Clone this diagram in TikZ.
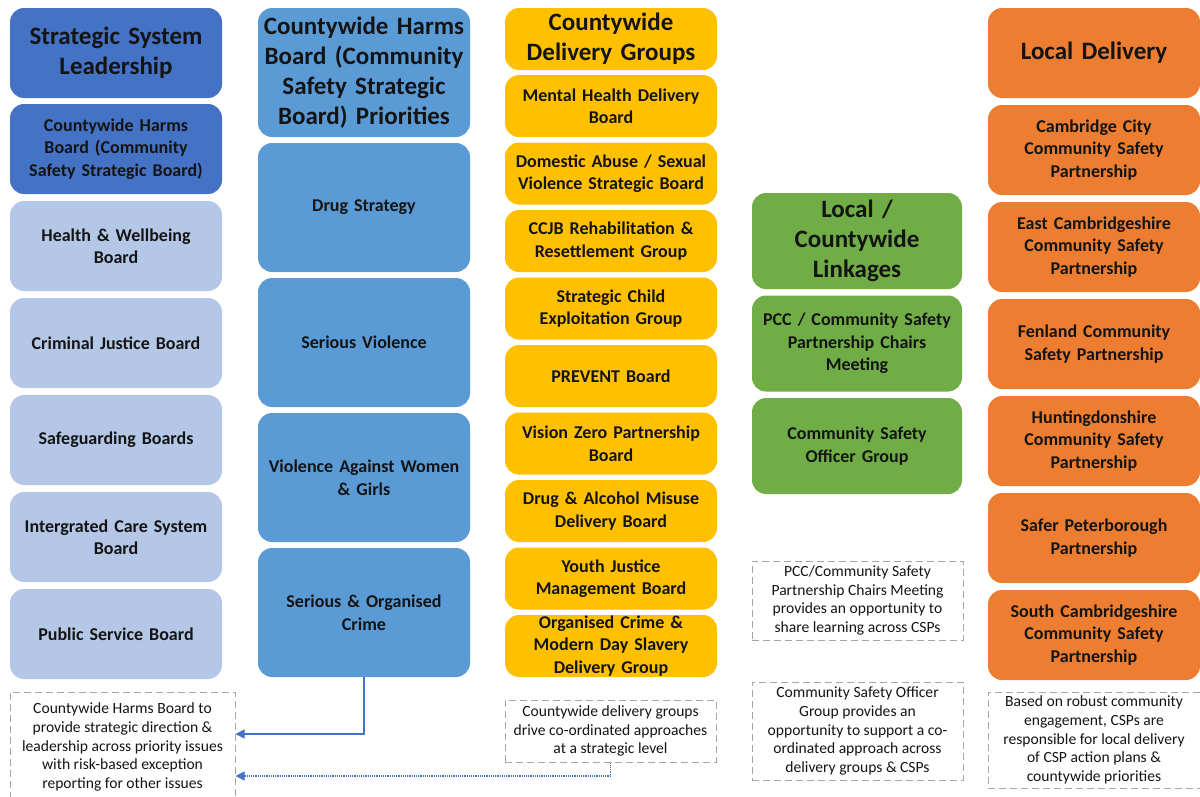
\documentclass[tikz,border=0pt]{standalone}
\usepackage{fontspec}
\setmainfont{Carlito}
\usetikzlibrary{arrows.meta,calc}
\definecolor{leadblue}{HTML}{4472C4}
\definecolor{paleblue}{HTML}{B4C7E7}
\definecolor{midblue}{HTML}{5B9BD5}
\definecolor{deliveryamber}{HTML}{FFC000}
\definecolor{linkgreen}{HTML}{70AD47}
\definecolor{localorange}{HTML}{ED7D31}
\definecolor{notegray}{HTML}{A6A6A6}
\definecolor{inktext}{HTML}{141414}
\tikzset{
  tile/.style={rounded corners=14pt,minimum width=212pt,text width=208pt,align=center,inner sep=0pt,
    text=inktext,font=\bfseries\fontsize{18}{22.5}\selectfont},
  headtile/.style={tile,font=\bfseries\fontsize{25}{30}\selectfont},
  note/.style={draw=notegray,line width=1pt,dash pattern=on 7pt off 4pt,align=center,inner sep=0pt,
    text=inktext,font=\fontsize{15.6}{18.8}\selectfont},
  link/.style={leadblue,line width=1.2pt,-{Triangle[length=9pt,width=9pt]}}
}
\begin{document}
\begin{tikzpicture}[x=1pt,y=-1pt]
  \useasboundingbox (0,0) rectangle (1200,796);
  % strategic system leadership
  \node[headtile,fill=leadblue,minimum height=90pt] (sys0) at (116,53) {Strategic System\\Leadership};
  \node[tile,fill=leadblue,minimum height=90pt] (sys1) at (116,149) {Countywide Harms\\Board (Community\\Safety Strategic Board)};
  \foreach \txt [count=\i from 2] in {{Health \& Wellbeing\\Board},{Criminal Justice Board},{Safeguarding Boards},{Intergrated Care System\\Board},{Public Service Board}}
    \node[tile,fill=paleblue,minimum height=90pt] (sys\i) at (116,{149+97*(\i-1)}) {\txt};
  % harms board priorities
  \node[headtile,fill=midblue,minimum height=129pt] (pri0) at (364,72.5) {Countywide Harms\\Board (Community\\Safety Strategic\\Board) Priorities};
  \foreach \txt [count=\i] in {{Drug Strategy},{Serious Violence},{Violence Against Women\\\& Girls},{Serious \& Organised\\Crime}}
    \node[tile,fill=midblue,minimum height=129pt] (pri\i) at (364,{72.5+135*\i}) {\txt};
  % delivery groups
  \node[headtile,fill=deliveryamber,minimum height=62pt] (del0) at (611,39) {Countywide\\Delivery Groups};
  \foreach \txt [count=\i] in {{Mental Health Delivery\\Board},{Domestic Abuse / Sexual\\Violence Strategic Board},{CCJB Rehabilitation \&\\Resettlement Group},{Strategic Child\\Exploitation Group},{PREVENT Board},{Vision Zero Partnership\\Board},{Drug \& Alcohol Misuse\\Delivery Board},{Youth Justice\\Management Board},{Organised Crime \&\\Modern Day Slavery\\Delivery Group}}
    \node[tile,fill=deliveryamber,minimum height=62pt] (del\i) at (611,{38.5+67.5*\i}) {\txt};
  % linkages
  \node[headtile,fill=linkgreen,minimum width=210pt,minimum height=96pt] (lnk0) at (857,241) {Local /\\Countywide\\Linkages};
  \node[tile,fill=linkgreen,minimum width=210pt,minimum height=96pt] (lnk1) at (857,343.5) {PCC / Community Safety\\Partnership Chairs\\Meeting};
  \node[tile,fill=linkgreen,minimum width=210pt,minimum height=96pt] (lnk2) at (857,446) {Community Safety\\Officer Group};
  % local delivery
  \node[headtile,fill=localorange,minimum height=90pt] (loc0) at (1094,53) {Local Delivery};
  \foreach \txt [count=\i] in {{Cambridge City\\Community Safety\\Partnership},{East Cambridgeshire\\Community Safety\\Partnership},{Fenland Community\\Safety Partnership},{Huntingdonshire\\Community Safety\\Partnership},{Safer Peterborough\\Partnership},{South Cambridgeshire\\Community Safety\\Partnership}}
    \node[tile,fill=localorange,minimum height=90pt] (loc\i) at (1094,{53+97*\i}) {\txt};
  % notes
  \node[note,minimum width=225pt,minimum height=110pt] (sysnote) at (122.5,747) {Countywide Harms Board to\\provide strategic direction \&\\leadership across priority issues\\with risk-based exception\\reporting for other issues};
  \node[note,minimum width=211pt,minimum height=62pt] (delnote) at (610.5,731) {Countywide delivery groups\\drive co-ordinated approaches\\at a strategic level};
  \node[note,minimum width=211pt,minimum height=79pt] (chairnote) at (857.5,600.5) {PCC/Community Safety\\Partnership Chairs Meeting\\provides an opportunity to\\share learning across CSPs};
  \node[note,minimum width=211pt,minimum height=98pt] (officernote) at (857.5,731) {Community Safety Officer\\Group provides an\\opportunity to support a co-\\ordinated approach across\\delivery groups \& CSPs};
  \node[note,minimum width=212pt,minimum height=96pt] (locnote) at (1094,740) {Based on robust community\\engagement, CSPs are\\responsible for local delivery\\of CSP action plans \&\\countywide priorities};
  % connectors
  \draw[link] (pri4.south) |- ($(sysnote.east)+(0,-13)$);
  \draw[link,densely dotted] (delnote.south) |- ($(sysnote.east)+(0,29)$);
\end{tikzpicture}
\end{document}
